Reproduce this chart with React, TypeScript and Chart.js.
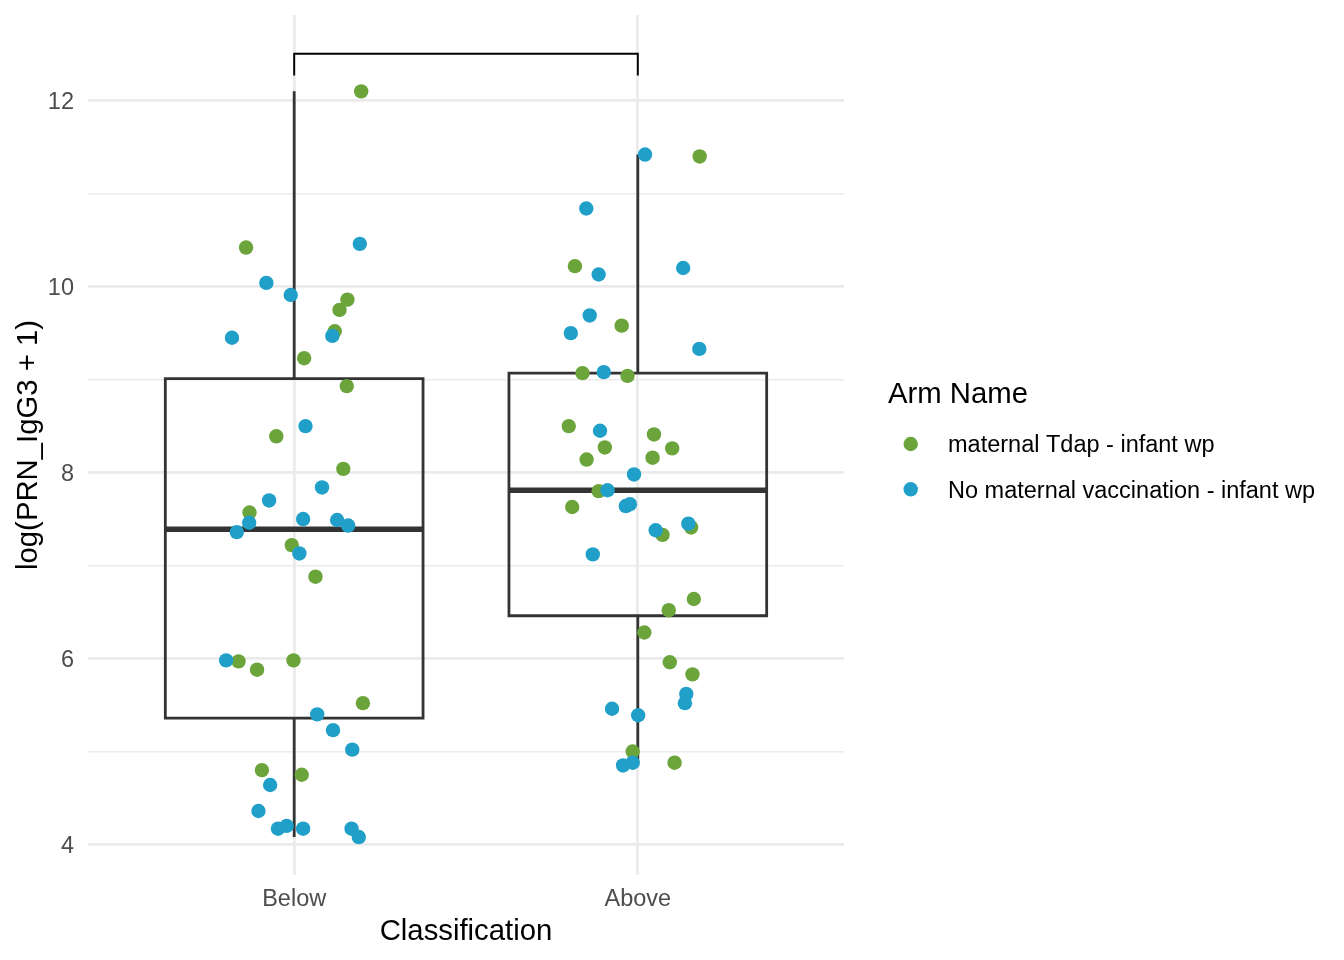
import { useEffect, useRef } from "react";
import { Chart, registerables } from "chart.js";

Chart.register(...registerables);

const FONT = "'Liberation Sans', Arial, Helvetica, sans-serif";

// ---------- data ----------
const categories = ["Below", "Above"];
const categoryPositions = [1, 2];
const seriesNames = ["maternal Tdap - infant wp", "No maternal vaccination - infant wp"];
const seriesColors = ["#6AA43B", "#20A0C9"];
const legendTitle = "Arm Name";
const xTitle = "Classification";
const yTitle = "log(PRN_IgG3 + 1)";

// boxplot statistics per category
const boxQ1 = [5.36, 6.46];
const boxMedian = [7.39, 7.81];
const boxQ3 = [9.01, 9.07];
const whiskerLow = [4.08, 4.85];
const whiskerHigh = [12.1, 11.42];
const boxWidth = 0.75;

// significance bracket
const bracketY = 12.505;
const bracketTipY = 12.27;

// axis
const yMin = 3.672;
const yMax = 12.921;
const yMajorTicks = [4, 6, 8, 10, 12];
const yMinorTicks = [5, 7, 9, 11];
const xMin = 0.4;
const xMax = 2.6;

// points: values and horizontal jitter (category units)
const tdapBelowValues = [12.1, 10.42, 9.86, 9.75, 9.52, 9.23, 8.93, 8.39, 8.04, 7.57, 7.22, 6.88, 5.97, 5.88, 5.98, 5.52, 4.8, 4.75];
const tdapBelowJitter = [0.195, -0.14, 0.155, 0.132, 0.118, 0.029, 0.153, -0.052, 0.143, -0.13, -0.007, 0.062, -0.162, -0.108, -0.002, 0.2, -0.094, 0.022];

const noVaxBelowValues = [10.46, 10.04, 9.91, 9.45, 9.47, 8.5, 7.84, 7.7, 7.5, 7.49, 7.43, 7.46, 7.36, 7.13, 5.98, 5.4, 5.23, 5.02, 4.64, 4.36, 4.17, 4.2, 4.17, 4.17, 4.08];
const noVaxBelowJitter = [0.191, -0.081, -0.01, -0.181, 0.111, 0.033, 0.081, -0.073, 0.026, 0.125, 0.157, -0.131, -0.167, 0.015, -0.198, 0.067, 0.113, 0.169, -0.07, -0.104, -0.047, -0.022, 0.026, 0.167, 0.188];

const tdapAboveValues = [11.4, 10.22, 9.58, 9.07, 9.04, 8.5, 8.41, 8.27, 8.26, 8.14, 8.16, 7.8, 7.63, 7.33, 7.41, 6.64, 6.52, 6.28, 5.96, 5.83, 5.0, 4.88];
const tdapAboveJitter = [0.18, -0.183, -0.047, -0.161, -0.03, -0.201, 0.047, -0.096, 0.1, -0.149, 0.043, -0.114, -0.191, 0.072, 0.155, 0.163, 0.09, 0.019, 0.093, 0.159, -0.015, 0.107];

const noVaxAboveValues = [11.42, 10.84, 10.2, 10.13, 9.69, 9.5, 9.33, 9.08, 8.45, 7.98, 7.81, 7.64, 7.66, 7.38, 7.45, 7.12, 5.62, 5.52, 5.46, 5.39, 4.88, 4.85];
const noVaxAboveJitter = [0.021, -0.15, 0.132, -0.114, -0.14, -0.195, 0.179, -0.099, -0.11, -0.011, -0.088, -0.035, -0.023, 0.052, 0.147, -0.131, 0.141, 0.137, -0.075, 0.001, -0.015, -0.043];

// ---------- builders ----------
type Pt = { x: number; y: number | null };

function jittered(pos: number, values: number[], jitter: number[]): Pt[] {
  return values.map((v, i) => ({ x: pos + jitter[i], y: v }));
}

function boxOutlines(): Pt[] {
  const pts: Pt[] = [];
  categoryPositions.forEach((p, i) => {
    const l = p - boxWidth / 2;
    const r = p + boxWidth / 2;
    pts.push(
      { x: l, y: boxQ1[i] },
      { x: l, y: boxQ3[i] },
      { x: r, y: boxQ3[i] },
      { x: r, y: boxQ1[i] },
      { x: l, y: boxQ1[i] },
      { x: p, y: null }
    );
  });
  return pts;
}

function whiskers(): Pt[] {
  const pts: Pt[] = [];
  categoryPositions.forEach((p, i) => {
    pts.push(
      { x: p, y: whiskerHigh[i] },
      { x: p, y: boxQ3[i] },
      { x: p, y: null },
      { x: p, y: boxQ1[i] },
      { x: p, y: whiskerLow[i] },
      { x: p, y: null }
    );
  });
  return pts;
}

function medians(): Pt[] {
  const pts: Pt[] = [];
  categoryPositions.forEach((p, i) => {
    pts.push({ x: p - boxWidth / 2, y: boxMedian[i] }, { x: p + boxWidth / 2, y: boxMedian[i] }, { x: p, y: null });
  });
  return pts;
}

function bracket(): Pt[] {
  const [a, b] = categoryPositions;
  return [
    { x: a, y: bracketTipY },
    { x: a, y: bracketY },
    { x: b, y: bracketY },
    { x: b, y: bracketTipY },
  ];
}

const lineBase = {
  type: "line" as const,
  pointRadius: 0,
  pointHoverRadius: 0,
  fill: false,
  tension: 0,
  spanGaps: false,
  borderJoinStyle: "miter" as const,
};

const legendPlugin = {
  id: "armLegend",
  afterDraw(chart: any) {
    const ctx = chart.ctx as CanvasRenderingContext2D;
    const left = chart.chartArea.right + 44;
    ctx.save();
    ctx.textAlign = "left";
    ctx.textBaseline = "alphabetic";
    ctx.fillStyle = "#000000";
    ctx.font = `29.3px ${FONT}`;
    ctx.fillText(legendTitle, left, 403);
    seriesNames.forEach((name, i) => {
      const cy = 444 + i * 45.3;
      ctx.beginPath();
      ctx.arc(left + 22.7, cy, 7.2, 0, Math.PI * 2);
      ctx.fillStyle = seriesColors[i];
      ctx.fill();
      ctx.fillStyle = "#000000";
      ctx.font = `23.5px ${FONT}`;
      ctx.fillText(name, left + 60, cy + 8.4);
    });
    ctx.restore();
  },
};

export default function App() {
  const ref = useRef<HTMLCanvasElement>(null);

  useEffect(() => {
    if (!ref.current) return;
    const pointStyle = (color: string) => ({
      backgroundColor: color,
      borderColor: color,
      pointBackgroundColor: color,
      pointBorderWidth: 0,
      pointRadius: 7.2,
      pointHoverRadius: 7.2,
      showLine: false,
    });

    const chart = new Chart(ref.current, {
      type: "scatter",
      data: {
        datasets: [
          {
            label: seriesNames[1],
            data: [
              ...jittered(categoryPositions[0], noVaxBelowValues, noVaxBelowJitter),
              ...jittered(categoryPositions[1], noVaxAboveValues, noVaxAboveJitter),
            ],
            order: 0,
            ...pointStyle(seriesColors[1]),
          },
          {
            label: seriesNames[0],
            data: [
              ...jittered(categoryPositions[0], tdapBelowValues, tdapBelowJitter),
              ...jittered(categoryPositions[1], tdapAboveValues, tdapAboveJitter),
            ],
            order: 1,
            ...pointStyle(seriesColors[0]),
          },
          {
            ...lineBase,
            label: "whiskers",
            data: whiskers(),
            borderColor: "#333333",
            borderWidth: 2.8,
            order: 2,
          },
          {
            ...lineBase,
            label: "medians",
            data: medians(),
            borderColor: "#333333",
            borderWidth: 5.4,
            borderCapStyle: "butt",
            order: 2,
          },
          {
            ...lineBase,
            label: "boxes",
            data: boxOutlines(),
            borderColor: "#333333",
            borderWidth: 2.8,
            borderCapStyle: "square",
            order: 3,
          },
          {
            ...lineBase,
            label: "bracket",
            data: bracket(),
            borderColor: "#000000",
            borderWidth: 1.9,
            order: 2,
          },
        ] as any,
      },
      options: {
        responsive: false,
        animation: false,
        events: [],
        layout: { padding: { top: 15, right: 500, bottom: 0, left: 0 } },
        plugins: {
          legend: { display: false },
          tooltip: { enabled: false },
          title: { display: false },
        },
        scales: {
          x: {
            type: "linear",
            position: "bottom",
            min: xMin,
            max: xMax,
            afterBuildTicks: (s: any) => {
              s.ticks = categoryPositions.map((v) => ({ value: v }));
            },
            afterFit: (s: any) => {
              s.height = 85;
              s.paddingLeft = 0;
              s.paddingRight = 0;
            },
            ticks: {
              autoSkip: false,
              maxRotation: 0,
              padding: 10.8,
              color: "#4D4D4D",
              font: { family: FONT, size: 23.5 },
              callback: (v: any) => {
                const i = categoryPositions.indexOf(Number(v));
                return i >= 0 ? categories[i] : "";
              },
            },
            grid: { color: "#EBEBEB", lineWidth: 2.8, drawTicks: false },
            border: { display: false },
            title: {
              display: true,
              text: xTitle,
              color: "#000000",
              font: { family: FONT, size: 29.3 },
              padding: { top: 0, bottom: 10.1 },
            },
          },
          y: {
            type: "linear",
            min: yMin,
            max: yMax,
            afterBuildTicks: (s: any) => {
              s.ticks = [...yMajorTicks, ...yMinorTicks].sort((a, b) => a - b).map((v) => ({ value: v }));
            },
            afterFit: (s: any) => {
              s.width = 88;
              s.paddingTop = 0;
              s.paddingBottom = 0;
            },
            ticks: {
              autoSkip: false,
              padding: 14,
              labelOffset: 2,
              color: "#4D4D4D",
              font: { family: FONT, size: 23.5 },
              callback: (v: any) => (yMajorTicks.includes(Number(v)) ? String(v) : ""),
            },
            grid: {
              color: "#EBEBEB",
              drawTicks: false,
              lineWidth: (c: any) => (c.tick && yMajorTicks.includes(c.tick.value) ? 2.8 : 1.4),
            },
            border: { display: false },
            title: {
              display: true,
              text: yTitle,
              color: "#000000",
              font: { family: FONT, size: 29.3 },
              padding: { top: 11.6, bottom: 0 },
            },
          },
        },
      } as any,
      plugins: [legendPlugin],
    });
    return () => chart.destroy();
  }, []);

  return (
    <div style={{ position: "fixed", left: 0, top: 0, width: 1344, height: 960, background: "#ffffff" }}>
      <canvas ref={ref} width={1344} height={960} style={{ display: "block", width: 1344, height: 960 }} />
    </div>
  );
}
